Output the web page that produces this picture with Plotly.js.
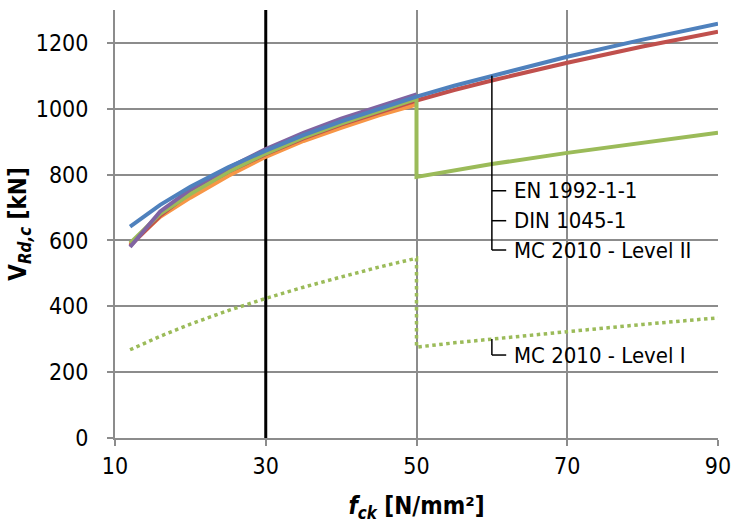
<!DOCTYPE html>
<html><head><meta charset="utf-8">
<script src="https://cdn.plot.ly/plotly-3.0.1.min.js"></script>
<style>html,body{margin:0;padding:0;background:#fff}#chart{width:732px;height:525px}</style>
</head><body><div id="chart"></div>
<script>
// concrete strength classes fck [N/mm²]
const fckFull = [12, 16, 20, 25, 30, 35, 40, 45, 50, 55, 60, 70, 80, 90];
const fckLow  = [12, 16, 20, 25, 30, 35, 40, 45, 50];
const fckJump = [12, 16, 20, 25, 30, 35, 40, 45, 50, 50, 55, 60, 70, 80, 90];

// VRd,c [kN]
const blueVals   = [642, 708, 763, 822, 873, 920, 962, 1000, 1037, 1070, 1100, 1158, 1210, 1258];
const redVals    = [584, 675, 745, 808, 862, 910, 952, 990, 1025, 1057, 1086, 1140, 1189, 1234];
const purpleVals = [580, 688, 755, 820, 878, 927, 970, 1008, 1044];
const orangeVals = [588, 672, 730, 796, 854, 902, 942, 980, 1013];
const levelII    = [592, 681, 741, 808, 864, 913, 955, 994, 1030, 793, 813, 832, 866, 897, 927];
const levelI     = [268, 309, 346, 387, 424, 458, 489, 519, 546, 276, 289, 301, 323, 345, 365];

// reference line at fck = 30
const refX = [30, 30];
const refY = [0, 1300];

// label bracket (leader lines)
const bracketX = [60, 60];
const bracketY = [1100, 571];
const tickX = [60, 61.9];
const labelTexts = ["EN 1992-1-1", "DIN 1045-1", "MC 2010 - Level II"];
const labelY = [751, 660, 571];
const levelIText = "MC 2010 - Level I";
const levelIBracketY = [301, 252];
const labelX = 62.7;

const FONT = "'Liberation Sans Narrow', 'Arial Narrow', 'DejaVu Sans Condensed', sans-serif";
const C = {blue:'#4F81BD', red:'#C0504D', green:'#9BBB59', purple:'#8064A2', orange:'#F79646'};

const traces = [];
const line = (x, y, color, w, dash, name) => ({x, y, type:'scatter', mode:'lines', name,
  line:{color, width:w, dash: dash || 'solid'}, hoverinfo:'skip', showlegend:false});

traces.push(line(refX, refY, '#000', 3, null, 'ref'));
traces.push(line(fckLow, orangeVals, C.orange, 4, null, 'orange'));
traces.push(line(fckFull, redVals, C.red, 4, null, 'DIN 1045-1'));
traces.push(line(fckJump, levelII, C.green, 4, null, 'MC 2010 - Level II'));
traces.push(line(fckJump, levelI, C.green, 3.5, 'dot', 'MC 2010 - Level I'));
traces.push(line(fckLow, purpleVals, C.purple, 4, null, 'purple'));
traces.push(line(fckFull, blueVals, C.blue, 4, null, 'EN 1992-1-1'));

// bracket lines
traces.push(line(bracketX, bracketY, '#000', 1.5, null, 'b'));
labelY.forEach(v => traces.push(line(tickX, [v, v], '#000', 1.5, null, 't')));
traces.push(line(bracketX, levelIBracketY, '#000', 1.5, null, 'b1'));
traces.push(line(tickX, [levelIBracketY[1], levelIBracketY[1]], '#000', 1.5, null, 't1'));

const annotations = labelTexts.map((t, i) => ({x: labelX, y: labelY[i], text: t, xanchor:'left', yanchor:'middle',
  showarrow:false, font:{family:FONT, size:22, color:'#000'}}));
annotations.push({x: labelX, y: levelIBracketY[1], text: levelIText, xanchor:'left', yanchor:'middle',
  showarrow:false, font:{family:FONT, size:22, color:'#000'}});

const layout = {
  width:732, height:525,
  margin:{l:115, r:14, t:10, b:87},
  paper_bgcolor:'#fff', plot_bgcolor:'#fff',
  font:{family:FONT, size:23, color:'#000'},
  xaxis:{range:[10,90], tick0:10, dtick:20, showgrid:true, gridcolor:'#8c8c8c', gridwidth:2,
    showline:true, linecolor:'#8c8c8c', linewidth:2, ticks:'outside', ticklen:6, tickcolor:'#8c8c8c', tickwidth:2,
    zeroline:false, tickfont:{family:FONT, size:23}, ticklabeloverflow:'allow',
    title:{text:'<i>f</i><sub><i>ck</i></sub> [N/mm²]', font:{family:FONT, size:24, weight:'bold'}, standoff:20}},
  yaxis:{range:[0,1300], tick0:0, dtick:200, showgrid:true, gridcolor:'#8c8c8c', gridwidth:2,
    showline:true, linecolor:'#8c8c8c', linewidth:2, ticks:'outside', ticklen:6, tickcolor:'#8c8c8c', tickwidth:2,
    zeroline:false, tickfont:{family:FONT, size:23}, ticklabelstandoff:14, ticklabeloverflow:'allow',
    title:{text:'V<sub><i>Rd,c</i></sub> [kN]', font:{family:FONT, size:24, weight:'bold'}, standoff:2}},
  annotations
};
Plotly.newPlot('chart', traces, layout, {staticPlot:true, displayModeBar:false});
</script></body></html>
